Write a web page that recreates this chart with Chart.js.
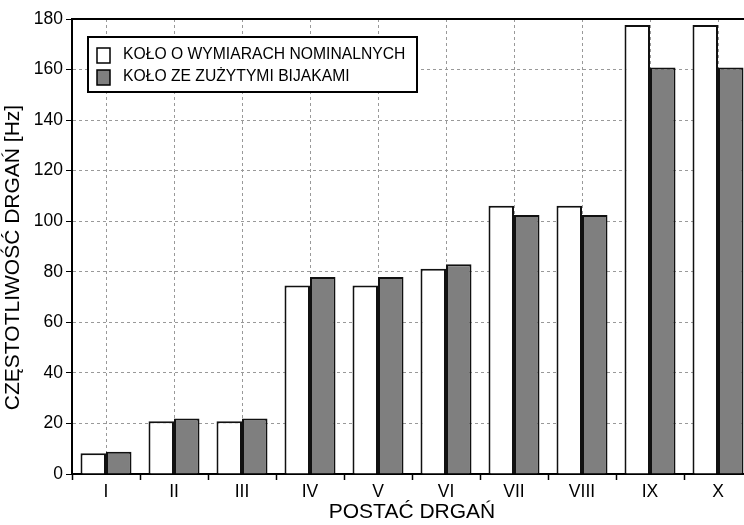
<!DOCTYPE html>
<html>
<head>
<meta charset="utf-8">
<script src="https://cdn.jsdelivr.net/npm/chart.js@4"></script>
<style>
  html, body { margin: 0; padding: 0; background: #fff; overflow: hidden; }
  #wrap { width: 760px; height: 525px; }
</style>
</head>
<body>
<div id="wrap"><canvas id="modeChart" width="760" height="525"></canvas></div>
<script>
// Data
const categories = ['I', 'II', 'III', 'IV', 'V', 'VI', 'VII', 'VIII', 'IX', 'X'];
const nominal = [8.2, 20.9, 20.9, 74.6, 74.6, 81.2, 106.1, 106.1, 177.6, 177.6];
const worn = [8.8, 22.0, 22.0, 77.9, 77.9, 83.0, 102.5, 102.5, 160.8, 160.8];
const seriesLabels = ['KOŁO O WYMIARACH NOMINALNYCH', 'KOŁO ZE ZUŻYTYMI BIJAKAMI'];
const yTitle = 'CZĘSTOTLIWOŚĆ DRGAŃ [Hz]';

const font = 'Liberation Sans, Arial, sans-serif';

// frame on top and right, tick marks at category boundaries, legend box, y title
const extras = {
    id: 'extras',
    afterDraw(chart) {
        const c = chart.ctx;
        const a = chart.chartArea;
        const x = chart.scales.x;
        c.save();
        c.strokeStyle = '#000';
        c.lineWidth = 2;
        c.beginPath();
        c.moveTo(a.left, a.top);
        c.lineTo(a.right, a.top);
        c.lineTo(a.right, a.bottom);
        c.stroke();

        // ticks between categories
        c.lineWidth = 1.5;
        const step = x.getPixelForValue(1) - x.getPixelForValue(0);
        for (let i = 0; i <= categories.length; i++) {
            const px = Math.round(x.getPixelForValue(i) - step / 2) + 0.5;
            c.beginPath();
            c.moveTo(px, a.bottom);
            c.lineTo(px, a.bottom + 6);
            c.stroke();
        }

        // legend
        const bx = a.left + 16, by = a.top + 18, bw = 329, bh = 55;
        c.fillStyle = '#fff';
        c.fillRect(bx, by, bw, bh);
        c.lineWidth = 2;
        c.strokeRect(bx, by, bw, bh);
        c.font = '15.7px ' + font;
        c.textBaseline = 'middle';
        chart.data.datasets.forEach((ds, i) => {
            const iy = by + 11 + i * 22;
            c.fillStyle = ds.backgroundColor;
            c.fillRect(bx + 9, iy, 13, 15);
            c.lineWidth = 1.5;
            c.strokeRect(bx + 9, iy, 13, 15);
            c.fillStyle = '#000';
            c.fillText(ds.label, bx + 35, iy + 7);
        });

        // y axis title, sits a bit below the axis middle in the original
        c.translate(13, (a.top + a.bottom) / 2 + 11);
        c.rotate(-Math.PI / 2);
        c.font = '21px ' + font;
        c.textAlign = 'center';
        c.textBaseline = 'middle';
        c.fillStyle = '#000';
        c.fillText(yTitle, 0, 0);
        c.restore();
    }
};

const ctx = document.getElementById('modeChart').getContext('2d');
const modeChart = new Chart(ctx, {
    type: 'bar',
    data: {
        labels: categories,
        datasets: [{
            label: seriesLabels[0],
            data: nominal,
            backgroundColor: '#ffffff',
            borderColor: '#111',
            borderWidth: 2,
            borderSkipped: 'bottom',
            categoryPercentage: 0.75,
            barPercentage: 1.0
        }, {
            label: seriesLabels[1],
            data: worn,
            backgroundColor: '#7f7f7f',
            borderColor: '#111',
            borderWidth: 2,
            borderSkipped: 'bottom',
            categoryPercentage: 0.75,
            barPercentage: 1.0
        }]
    },
    options: {
        responsive: false,
        animation: false,
        layout: { padding: { top: 19, right: 8, left: 0, bottom: 0 } },
        plugins: {
            legend: { display: false },
            tooltip: { enabled: false }
        },
        scales: {
            x: {
                grid: {
                    offset: false,
                    color: '#999',
                    drawTicks: false
                },
                border: { color: '#000', width: 2, dash: [3, 3] },
                ticks: {
                    color: '#000',
                    font: { family: font, size: 17.5 },
                    padding: 8
                },
                title: {
                    display: true,
                    text: 'POSTAĆ DRGAŃ',
                    color: '#000',
                    font: { family: font, size: 21 },
                    padding: { top: 0, bottom: 0 }
                },
                afterFit(scale) { scale.height = 51; }
            },
            y: {
                min: 0,
                max: 180,
                ticks: {
                    stepSize: 20,
                    color: '#000',
                    font: { family: font, size: 17.5 },
                    padding: 3
                },
                grid: {
                    color: '#999',
                    tickLength: 6,
                    tickColor: '#000',
                    tickBorderDash: []
                },
                border: { color: '#000', width: 2, dash: [3, 3] },
                afterFit(scale) { scale.width = 72; }
            }
        }
    },
    plugins: [extras]
});
</script>
</body>
</html>
